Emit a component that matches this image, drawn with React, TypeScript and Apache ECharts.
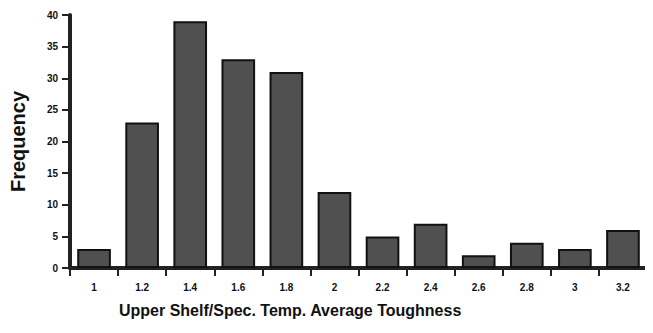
import React, { useEffect, useRef } from "react";
import * as echarts from "echarts";

const categories = ["1", "1.2", "1.4", "1.6", "1.8", "2", "2.2", "2.4", "2.6", "2.8", "3", "3.2"];
const frequencies = [3, 23, 39, 33, 31, 12, 5, 7, 2, 4, 3, 6];
const yTicks = { min: 0, max: 40, interval: 5 };

export default function App() {
  const ref = useRef<HTMLDivElement>(null);
  useEffect(() => {
    if (!ref.current) return;
    const chart = echarts.init(ref.current, null, { renderer: "svg" });
    const font = "Liberation Sans, Arial, sans-serif";
    chart.setOption({
      animation: false,
      title: {
        text: "Upper Shelf/Spec. Temp. Average Toughness",
        left: 119,
        top: 302,
        padding: 0,
        textStyle: { fontFamily: font, fontWeight: "bold", fontSize: 16, color: "#111" },
      },
      grid: { left: 70, right: 6, top: 15, bottom: 65 },
      xAxis: {
        type: "category",
        data: categories,
        axisLine: { show: true, lineStyle: { color: "#222", width: 4 } },
        axisTick: { show: true, length: 8, lineStyle: { color: "#222", width: 2 } },
        axisLabel: { fontFamily: font, fontWeight: "bold", fontSize: 10, color: "#111", margin: 14, interval: 0 },
      },
      yAxis: {
        type: "value",
        min: yTicks.min,
        max: yTicks.max,
        interval: yTicks.interval,
        name: "Frequency",
        nameLocation: "middle",
        nameGap: 42,
        nameTextStyle: { fontFamily: font, fontWeight: "bold", fontSize: 20, color: "#111" },
        axisLine: { show: true, lineStyle: { color: "#222", width: 4 } },
        axisTick: { show: true, length: 8, lineStyle: { color: "#222", width: 2 } },
        axisLabel: { fontFamily: font, fontWeight: "bold", fontSize: 10, color: "#111", margin: 12 },
        splitLine: { show: false },
      },
      series: [
        {
          type: "bar",
          data: frequencies,
          barCategoryGap: "30%",
          itemStyle: { color: "#505050", borderColor: "#111", borderWidth: 2 },
        },
      ],
    });
    return () => chart.dispose();
  }, []);
  return <div ref={ref} style={{ width: 653, height: 333, margin: "-8px 0 0 -8px" }} />;
}
